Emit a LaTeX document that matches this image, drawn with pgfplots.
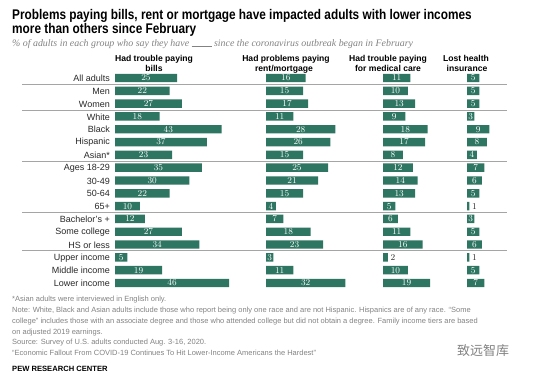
\documentclass[border=0pt]{standalone}
\usepackage{fontspec}
\setmainfont{Liberation Sans}
\newfontfamily\titlefont[FakeStretch=0.845]{Liberation Sans}
\newfontfamily\subfont{Liberation Serif}
\newfontfamily\cjk{Noto Sans CJK SC}
\usepackage{pgfplots}
\usepackage{pgfplotstable}
\pgfplotsset{compat=1.18}
\definecolor{barc}{RGB}{46,118,98}
\definecolor{sepc}{RGB}{165,165,165}
\definecolor{notec}{RGB}{130,130,130}
\definecolor{labc}{RGB}{40,40,40}

\pgfplotstableread{
row p1 p2 p3 p4
0  25 16 11 5
1  22 15 10 5
2  27 17 13 5
3  18 11 9  3
4  43 28 18 9
5  37 26 17 8
6  23 15 8  4
7  35 25 12 7
8  30 21 14 6
9  22 15 13 5
10 10 4  5  1
11 12 7  6  3
12 27 18 11 5
13 34 23 16 6
14 5  3  2  1
15 19 11 10 5
16 46 32 19 7
}\datatable

\pgfplotsset{panel/.style={
  x=2.48pt, y=12.81pt, y dir=reverse,
  xmin=0, ymin=-0.5, ymax=16.5,
  anchor=north west, clip=false,
  axis line style={draw=none}, major tick length=0pt,
  xtick=\empty, ytick=\empty,
  xbar, bar width=8.4pt, bar shift=0pt,
  point meta=x,
  visualization depends on={rawx \as \rawx},
  nodes near coords={\ifdim\rawx pt<2.5pt\color{labc}\else\color{white}\fi\pgfmathprintnumber{\pgfplotspointmeta}},
  nodes near coords style={font=\fontsize{8.6}{9}\selectfont, anchor=center, inner sep=0pt,
     xshift={\rawx<2.5 ? 5 : -1.24*\rawx}},
}}

\begin{document}
\begin{tikzpicture}
\path[use as bounding box] (0,0) rectangle (554pt,-376pt);

% title
\node[anchor=base west, inner sep=0pt] at (12pt,-19.5pt) {\titlefont\bfseries\fontsize{14}{16}\selectfont Problems paying bills, rent or mortgage have impacted adults with lower incomes};
\node[anchor=base west, inner sep=0pt] at (12pt,-33pt) {\titlefont\bfseries\fontsize{14}{16}\selectfont more than others since February};
\node[anchor=base west, inner sep=0pt, text=notec] at (12pt,-46pt) {\subfont\itshape\fontsize{9.9}{11}\selectfont \% of adults in each group who say they have \rule[-0.5pt]{20pt}{0.5pt} since the coronavirus outbreak began in February};

% column headers
\begin{scope}[every node/.style={anchor=base, inner sep=0pt, font=\bfseries\fontsize{8.6}{10}\selectfont}]
\node at (154pt,-61.5pt) {Had trouble paying};
\node at (154pt,-71.5pt) {bills};
\node at (286pt,-61.5pt) {Had problems paying};
\node at (284pt,-71.5pt) {rent/mortgage};
\node at (388pt,-61.5pt) {Had trouble paying};
\node at (388pt,-71.5pt) {for medical care};
\node at (466pt,-61.5pt) {Lost health};
\node at (467pt,-71.5pt) {insurance};
\end{scope}

% separators
\begin{scope}[draw=sepc, line width=1pt]
\foreach \yy in {84.4,110.0,161.3,212.5,250.9}{
  \draw (22pt,-\yy pt) -- (507pt,-\yy pt);
}
\end{scope}

\begin{axis}[panel, at={(115pt,-71.6pt)}, xmax=47,
  ytick={0,...,16},
  yticklabels={All adults, Men, Women, White, Black, Hispanic, Asian*, Ages 18-29, 30-49, 50-64, 65+, Bachelor's +, Some college, HS or less, Upper income, Middle income, Lower income},
  yticklabel style={font=\fontsize{9}{10}\selectfont, text=labc, inner sep=0pt, xshift=-5pt, yshift=-0.5pt}]
\addplot[fill=barc, draw=none] table[x=p1, y=row]{\datatable};
\end{axis}

\begin{axis}[panel, at={(266pt,-71.6pt)}, xmax=33]
\addplot[fill=barc, draw=none] table[x=p2, y=row]{\datatable};
\end{axis}

\begin{axis}[panel, at={(383pt,-71.6pt)}, xmax=20]
\addplot[fill=barc, draw=none] table[x=p3, y=row]{\datatable};
\end{axis}

\begin{axis}[panel, at={(467pt,-71.6pt)}, xmax=10]
\addplot[fill=barc, draw=none] table[x=p4, y=row]{\datatable};
\end{axis}

% notes
\begin{scope}[every node/.style={anchor=base west, inner sep=0pt, text=notec, font=\fontsize{7.5}{8}\selectfont}]
\node at (12pt,-301.7pt) {*Asian adults were interviewed in English only.};
\node at (12pt,-312.7pt) {Note: White, Black and Asian adults include those who report being only one race and are not Hispanic. Hispanics are of any race. “Some};
\node at (12pt,-323.3pt) {college” includes those with an associate degree and those who attended college but did not obtain a degree. Family income tiers are based};
\node at (12pt,-334.3pt) {on adjusted 2019 earnings.};
\node at (12pt,-344.8pt) {Source: Survey of U.S. adults conducted Aug. 3-16, 2020.};
\node at (12pt,-355.3pt) {“Economic Fallout From COVID-19 Continues To Hit Lower-Income Americans the Hardest”};
\end{scope}
\node[anchor=base west, inner sep=0pt, font=\bfseries\fontsize{7.6}{8}\selectfont] at (12pt,-371pt) {PEW RESEARCH CENTER};
\node[anchor=base west, inner sep=0pt, text=notec, font=\cjk\fontsize{13}{14}\selectfont] at (457pt,-355pt) {致远智库};
\end{tikzpicture}
\end{document}
